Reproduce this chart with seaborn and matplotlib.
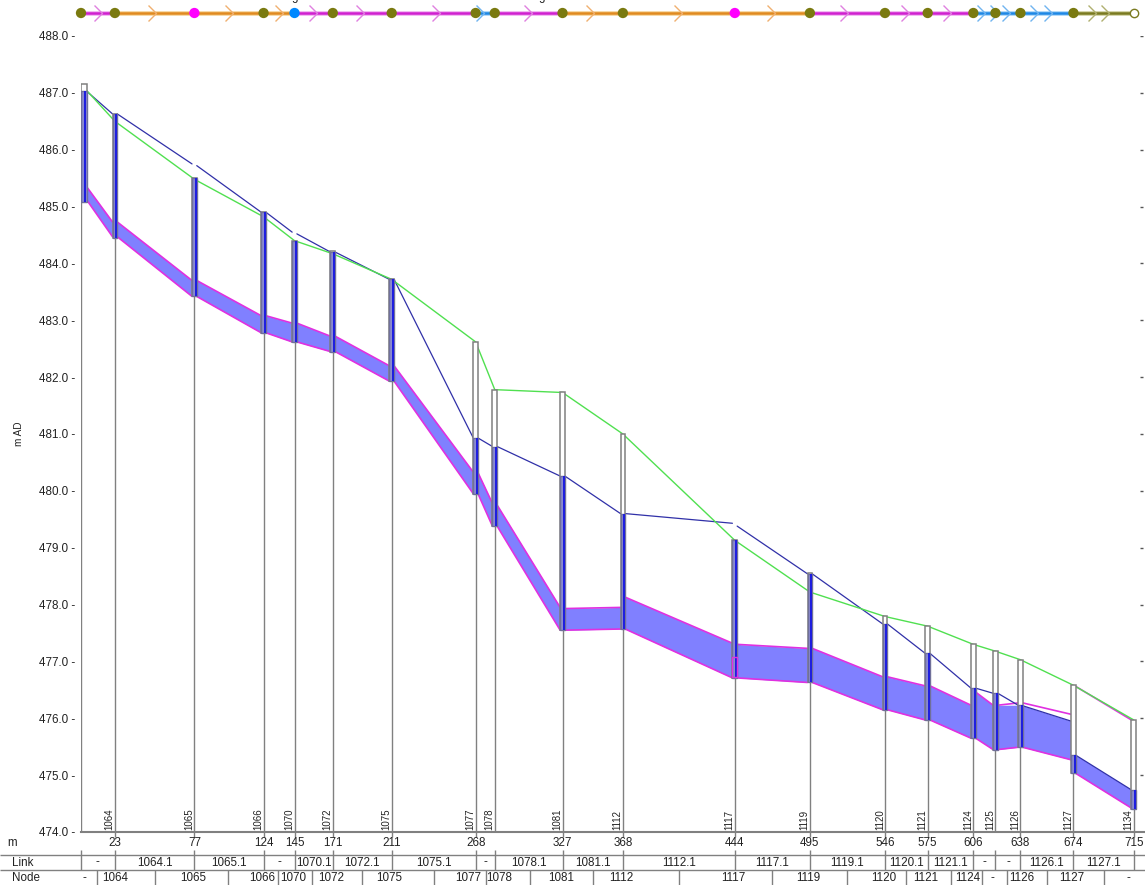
import numpy as np
import pandas as pd
import matplotlib
matplotlib.use("Agg")
import matplotlib.pyplot as plt
from matplotlib.path import Path
import seaborn as sns

# nodes
node_names = ["", "1064", "1065", "1066", "1070", "1072", "1075", "1077", "1078", "1081", "1112",
              "1117", "1119", "1120", "1121", "1124", "1125", "1126", "1127", "1134"]
node_x = [0, 23, 77, 124, 145, 171, 211, 268, 281, 327, 368, 444, 495, 546, 575, 606, 621, 638, 674, 715]
node_invert = [485.08, 484.45, 483.42, 482.78, 482.62, 482.45, 481.93, 479.95, 479.38, 477.55, 477.57,
               476.71, 476.63, 476.15, 475.97, 475.65, 475.45, 475.49, 475.03, 474.40]
node_top = [487.15, 486.63, 485.50, 484.90, 484.40, 484.22, 483.72, 482.62, 481.78, 481.73, 481.00,
            479.13, 478.55, 477.80, 477.62, 477.30, 477.18, 477.03, 476.58, 475.97]
node_water = [487.03, 486.63, 485.75, 484.90, 484.53, 484.20, 483.72, 480.93, 480.78, 480.27, 479.60,
              479.43, 478.54, 477.66, 477.14, 476.53, 476.44, 476.23, 475.35, 474.74]
ground = [487.15, 486.50, 485.48, 484.82, 484.40, 484.17, 483.72, 482.62, 481.78, 481.73, 481.00,
          479.13, 478.22, 477.79, 477.62, 477.30, 477.18, 477.03, 476.58, 475.97]

# links (upstream, downstream)
inv_up = [485.12, 484.47, 483.42, 482.78, 482.62, 482.45, 481.93, 479.95, 479.38, 477.55,
          477.57, 476.71, 476.63, 476.15, 475.97, 475.65, 475.45, 475.49, 475.03]
inv_dn = [484.47, 483.42, 482.78, 482.62, 482.45, 481.93, 479.95, 479.38, 477.55, 477.57,
          476.71, 476.63, 476.15, 475.97, 475.65, 475.45, 475.49, 475.27, 474.42]
crown_up = [485.35, 484.73, 483.70, 483.08, 482.95, 482.72, 482.20, 480.32, 479.75, 477.93,
            478.13, 477.30, 477.23, 476.73, 476.57, 476.46, 476.23, 476.27, 476.56]
crown_dn = [484.73, 483.70, 483.08, 482.95, 482.72, 482.20, 480.33, 479.78, 477.95, 477.95,
            477.32, 477.23, 476.73, 476.57, 476.23, 476.23, 476.27, 476.07, 475.97]
water_up = [487.03, 486.63, 485.72, 484.90, 484.52, 484.20, 483.72, 480.93, 480.78, 480.26,
            479.60, 479.38, 478.54, 477.66, 477.14, 476.53, 476.44, 476.22, 475.35]
water_dn = [486.63, 485.75, 484.90, 484.55, 484.20, 483.72, 480.93, 480.78, 480.26, 479.60,
            479.43, 478.54, 477.66, 477.14, 476.53, 476.44, 476.23, 475.95, 474.74]

y_ticks = [474.0, 475.0, 476.0, 477.0, 478.0, 479.0, 480.0, 481.0, 482.0, 483.0, 484.0, 485.0, 486.0, 487.0, 488.0]
m_ticks = [23, 77, 124, 145, 171, 211, 268, 327, 368, 444, 495, 546, 575, 606, 638, 674, 715]

# table rows
link_labels = ["-", "1064.1", "1065.1", "-", "1070.1", "1072.1", "1075.1", "-", "1078.1", "1081.1", "1112.1",
               "1117.1", "1119.1", "1120.1", "1121.1", "-", "-", "1126.1", "1127.1"]
node_row_labels = ["-", "1064", "1065", "1066", "1070", "1072", "1075", "1077", "1078", "1081", "1112",
                   "1117", "1119", "1120", "1121", "1124", "-", "1126", "1127", "-"]
node_row_x = [2.5, 23, 76, 123, 144, 170, 209, 263, 284, 326, 367, 443, 494, 545, 574, 602, 619, 639, 673, 711]
node_row_edges = [11, 50, 100, 134, 157, 190.5, 239.4, 275, 304.6, 348, 406, 469, 520.5, 560.6, 591, 612, 629, 656, 695]

# top strip
strip_link_kind = ["m", "o", "o", "o", "m", "m", "m", "b", "m", "o", "o", "o", "m", "m", "m", "b", "b", "b", "l"]
strip_node_kind = ["l", "l", "m", "l", "b", "l", "l", "l", "l", "l", "l", "m", "l", "l", "l", "l", "l", "l", "l"]
arrow_x = [14, 51, 103, 137, 160, 192.5, 243.5, 274, 306, 348.7, 408, 471.6, 521, 562, 591, 614, 623, 630.6,
           650, 659.6, 689, 698]
arrow_kind = ["m", "o", "o", "o", "m", "m", "m", "b", "m", "o", "o", "o", "m", "m", "m", "b", "b", "b",
              "b", "b", "l", "l"]

line_col = {"m": "#d020d0", "o": "#e08a20", "b": "#1e88e5", "l": "#7a7a20"}
halo_col = {"m": "#f0b0f0", "o": "#f6d49c", "b": "#a8d4f8", "l": "#d0d0a0"}
arrow_col = {"m": "#e080e0", "o": "#f0b070", "b": "#70b4f0", "l": "#b0b070"}
node_col = {"m": "#ff00ff", "b": "#0088ff", "l": "#7a7a10"}

sns.set_theme(style="white")
plt.rcParams["font.family"] = ["Liberation Sans", "DejaVu Sans"]

W, H = 1145, 885
PX = 1.4725
x0 = 81
xmax = (W - x0) / PX
xmin_full = -x0 / PX
GRAY = "#808080"

fig = plt.figure(figsize=(W / 100, H / 100), dpi=100, facecolor="white")
ax = fig.add_axes([x0 / W, 1 - 832 / H, 1 - x0 / W, (832 - 36) / H])
strip = fig.add_axes([0, 1 - 30 / H, 1, 30 / H])
table = fig.add_axes([0, 0, 1, (H - 832) / H])
for a in (strip, table):
    a.set_xlim(xmin_full, xmax)
    a.axis("off")
    a.patch.set_alpha(0)
strip.set_ylim(30, 0)
table.set_ylim(885, 832)

# ---- profile ----
half = 1.6
links = pd.DataFrame({
    "link": range(len(inv_up)),
    "x_up": [x + half for x in node_x[:-1]],
    "x_dn": [x - half for x in node_x[1:]],
    "inv_up": inv_up, "inv_dn": inv_dn,
    "crown_up": crown_up, "crown_dn": crown_dn,
    "water_up": water_up, "water_dn": water_dn,
})
links.loc[0, "x_up"] = 3.8

for r in links.itertuples():
    xs = [r.x_up, r.x_dn]
    top = np.minimum([r.crown_up, r.crown_dn], [r.water_up, r.water_dn])
    ax.fill_between(xs, [r.inv_up, r.inv_dn], top, color="#8080ff", lw=0, zorder=1)


def long_form(up, dn):
    return pd.DataFrame({
        "link": list(links["link"]) * 2,
        "x": list(links["x_up"]) + list(links["x_dn"]),
        "y": list(links[up]) + list(links[dn]),
    })


sns.lineplot(data=long_form("inv_up", "inv_dn"), x="x", y="y", units="link", estimator=None,
             color="#e030e0", lw=1.2, ax=ax, zorder=2)
sns.lineplot(data=long_form("crown_up", "crown_dn"), x="x", y="y", units="link", estimator=None,
             color="#e030e0", lw=1.2, ax=ax, zorder=2)
sns.lineplot(data=long_form("water_up", "water_dn"), x="x", y="y", units="link", estimator=None,
             color="#3030a8", lw=0.9, ax=ax, zorder=3)
sns.lineplot(x=node_x, y=ground, color="#50e050", lw=1, sort=False, ax=ax, zorder=3)

# manholes
bar_x = np.array(node_x, dtype=float)
bar_w = np.full(len(bar_x), 2 * half)
bar_x[0] = 1.9
bar_w[0] = 3.8
node_invert_a = np.array(node_invert)
node_top_a = np.array(node_top)
filled = np.minimum(node_water, node_top_a)
ax.bar(bar_x, node_top_a - node_invert_a, bottom=node_invert_a, width=bar_w, color="white",
       edgecolor=GRAY, lw=1.1, zorder=4)
ax.bar(bar_x, filled - node_invert_a, bottom=node_invert_a, width=bar_w, color="#8a8ad0",
       edgecolor="#70709a", lw=1, zorder=5)
ax.vlines(bar_x + bar_w / 4, node_invert_a, filled, color="#1c1ce0", lw=1.4, zorder=6)
ax.bar([444], [0.36], bottom=[476.72], width=2 * half, color="none", edgecolor="#e030e0", lw=1, zorder=7)

# stems and names
ax.vlines(node_x, 474, node_invert_a, color=GRAY, lw=1, zorder=1)
for x, name in zip(node_x, node_names):
    ax.text(x - 0.1, 474.03, name, rotation=90, ha="right", va="bottom", fontsize=7, color="#222222", zorder=8)

ax.set_xlim(0, xmax)
ax.set_ylim(474, 488)
sns.despine(ax=ax, left=True, right=True, top=True)
ax.spines["bottom"].set_color(GRAY)
ax.spines["bottom"].set_linewidth(1.5)
ax.set_yticks(y_ticks)
ax.set_yticklabels([f"{v:.1f} -" for v in y_ticks], fontsize=8.4, color="#222222")
ax.tick_params(axis="y", length=0, pad=4)
ax.set_xticks([])
ax.hlines(y_ticks, 719.5, 721.5, color="#555555", lw=1)
ax.set_xlabel("")
ax.set_ylabel("m AD", fontsize=7.2, color="#222222")
ax.yaxis.set_label_coords(-0.0535, 0.5)

# ---- bottom table ----
table.vlines(m_ticks, 832, 837, color=GRAY, lw=1)
for x in m_ticks:
    table.text(x, 843, str(x), ha="center", va="center", fontsize=8.4, color="#222222")
table.hlines([855, 870], xmin_full, xmax, color=GRAY, lw=1)
table.vlines(node_x, 850, 870, color=GRAY, lw=1)
table.vlines(node_row_edges, 870, 885, color=GRAY, lw=1)
for name, px, y in (("m", 7, 843), ("Link", 12, 863), ("Node", 12, 878)):
    table.text(xmin_full + px / PX, y, name, ha="left", va="center", fontsize=8.4, color="#222222")
for a, b, lab in zip(node_x[:-1], node_x[1:], link_labels):
    table.text((a + b) / 2, 862.5, lab, ha="center", va="center", fontsize=8.4, color="#222222")
for x, lab in zip(node_row_x, node_row_labels):
    table.text(x, 878, lab, ha="center", va="center", fontsize=8.4, color="#222222")

# ---- top strip ----
chevron = Path([(-1, 1), (0, 0), (-1, -1)], [Path.MOVETO, Path.LINETO, Path.LINETO])
for a, b, k in zip(node_x[:-1], node_x[1:], strip_link_kind):
    strip.plot([a, b], [13, 13], color=halo_col[k], lw=3.4, solid_capstyle="butt", zorder=1)
    strip.plot([a, b], [13, 13], color=line_col[k], lw=1.8, solid_capstyle="butt", zorder=2)
for x, k in zip(arrow_x, arrow_kind):
    strip.plot([x], [13], marker=chevron, ms=11.5, mfc="none", mec=arrow_col[k], mew=1, ls="none", zorder=3)
sns.scatterplot(x=node_x[:-1], y=[13] * len(strip_node_kind), hue=strip_node_kind, palette=node_col, s=55,
                linewidth=0, legend=False, ax=strip, zorder=4, clip_on=False)
strip.plot([node_x[-1]], [13], marker="o", ms=6, mfc="white", mec="#7a7a20", mew=1, ls="none", zorder=4)
strip.axis("off")
strip.set_xlim(xmin_full, xmax)
strip.set_ylim(30, 0)

# labels cut by the top edge of the picture
for x in (145, 313):
    strip.text(x, -2.8, "g", ha="center", va="center", fontsize=8.4, color="#222222", clip_on=False)

fig.savefig("out.png", dpi=100, facecolor="white")
